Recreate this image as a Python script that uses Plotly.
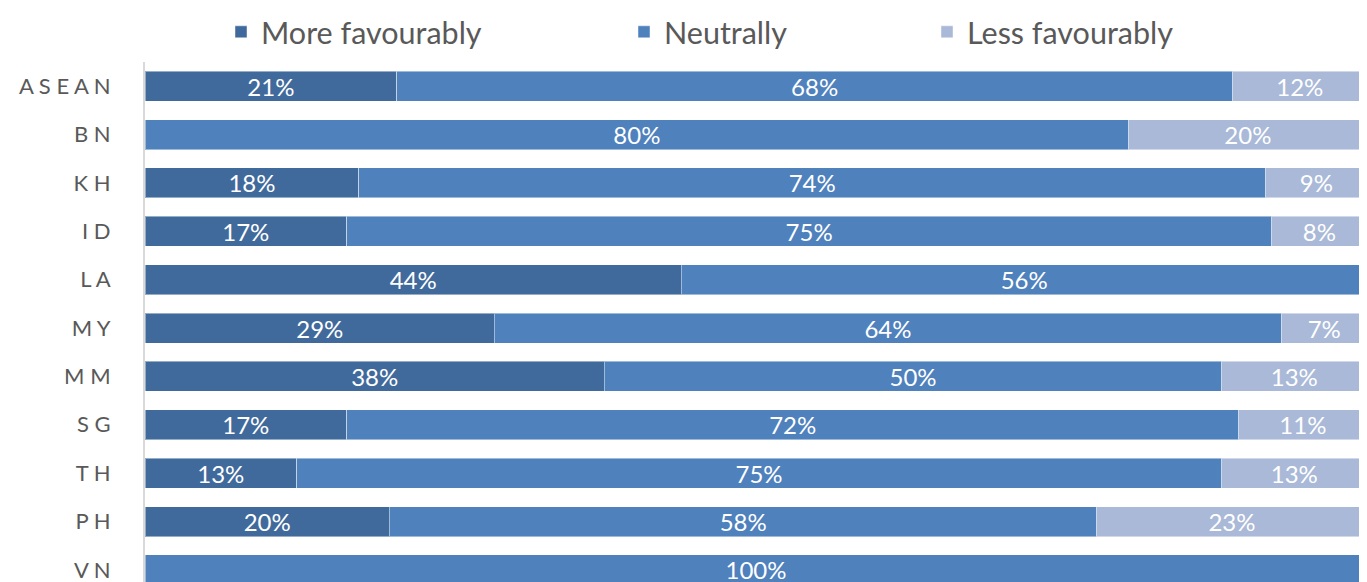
import plotly.graph_objects as go

categories = ["A S E A N", "B N", "K H", "I D", "L A", "M Y", "M M", "S G", "T H", "P H", "V N"]
more_vals = [20.6, None, 17.5, 16.5, 43.9, 28.6, 37.6, 16.5, 12.4, 20.0, None]
neutral_vals = [68.4, 80.5, 74.2, 75.7, 56.1, 64.4, 50.5, 73.0, 75.7, 57.9, 100.0]
less_vals = [11.0, 19.5, 8.3, 7.8, None, 7.0, 11.9, 10.5, 11.9, 22.1, None]
more_text = ["21%", "", "18%", "17%", "44%", "29%", "38%", "17%", "13%", "20%", ""]
neutral_text = ["68%", "80%", "74%", "75%", "56%", "64%", "50%", "72%", "75%", "58%", "100%"]
less_text = ["12%", "20%", "9%", "8%", "", "7%", "13%", "11%", "13%", "23%", ""]

series = [
    ("More favourably", more_vals, more_text, "#416A9C", "legend2", 213),
    ("Neutrally", neutral_vals, neutral_text, "#4F81BD", "legend3", 616),
    ("Less favourably", less_vals, less_text, "#A9B9D7", "legend4", 919),
]

W, H = 1367, 582
OFF = 8  # default page body margin

fig = go.Figure()
for name, vals, txt, col, lg, _ in series:
    fig.add_trace(go.Bar(
        y=categories, x=vals, name=name, orientation="h",
        text=txt, textposition="inside", insidetextanchor="middle",
        textfont=dict(color="white", size=24, family="Lato, sans-serif"),
        marker=dict(color=col, line=dict(color="rgba(255,255,255,0.45)", width=1)),
        legend=lg, hoverinfo="skip",
    ))

leg_common = dict(orientation="h", font=dict(size=30.5, color="#595959", family="Lato, sans-serif"),
                  yref="container", y=1 - (32 - OFF) / H, yanchor="middle", xanchor="left",
                  xref="container", bgcolor="rgba(0,0,0,0)", itemwidth=30)

legends = {lg: dict(**leg_common, x=lx / W) for _, _, _, _, lg, lx in series}

fig.update_layout(
    width=W, height=H,
    barmode="stack", bargap=0.38,
    margin=dict(l=145 - OFF, r=OFF, t=62 - OFF, b=OFF, autoexpand=False),
    paper_bgcolor="white", plot_bgcolor="white",
    uniformtext=dict(minsize=24, mode="show"),
    **legends,
    xaxis=dict(range=[0, 100], showgrid=False, showticklabels=False, zeroline=False, showline=False),
    yaxis=dict(range=[10.25, -0.5], showgrid=False, showline=True, linecolor="#D9D9D9", linewidth=2,
               ticks="", ticklabelstandoff=28,
               tickfont=dict(size=22, color="#595959", family="Lato, sans-serif")),
)

fig.write_html("out.html")
